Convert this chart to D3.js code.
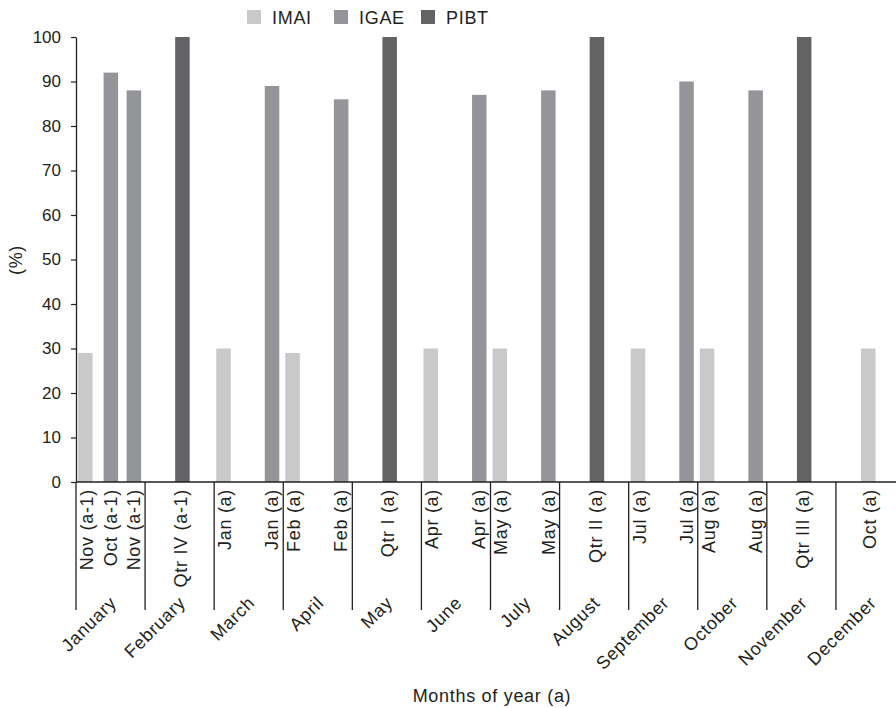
<!DOCTYPE html>
<html>
<head>
<meta charset="utf-8">
<script src="https://cdn.jsdelivr.net/npm/d3@7"></script>
<style>
  html, body { margin: 0; padding: 0; background: #fff; }
  svg { display: block; font-family: "Liberation Sans", Arial, Helvetica, sans-serif; }
  .lbl { font-size: 18px; letter-spacing: 0.7px; fill: #231f20; }
</style>
</head>
<body>
<svg id="chart" width="896" height="708"></svg>
<script>
// Months along the bottom; each month holds three slots.
const months = ["January", "February", "March", "April", "May", "June",
                "July", "August", "September", "October", "November", "December"];
const series = ["IMAI", "IGAE", "PIBT"];
const seriesColors = ["#c8c9cb", "#949598", "#636365"];

// One entry per occupied slot: month index, slot within month (0..2), series, reference label, value (%)
const slotMonth  = [0, 0, 0, 1, 2, 2, 3, 3, 4, 5, 5, 6, 6, 7, 8, 8, 9, 9, 10, 11];
const slotPos    = [0, 1, 2, 1, 0, 2, 0, 2, 1, 0, 2, 0, 2, 1, 0, 2, 0, 2, 1, 1];
const slotSeries = ["IMAI", "IGAE", "IGAE", "PIBT", "IMAI", "IGAE", "IMAI", "IGAE", "PIBT",
                    "IMAI", "IGAE", "IMAI", "IGAE", "PIBT", "IMAI", "IGAE", "IMAI", "IGAE",
                    "PIBT", "IMAI"];
const slotLabels = ["Nov (a-1)", "Oct (a-1)", "Nov (a-1)", "Qtr IV (a-1)", "Jan (a)", "Jan (a)",
                    "Feb (a)", "Feb (a)", "Qtr I (a)", "Apr (a)", "Apr (a)", "May (a)", "May (a)",
                    "Qtr II (a)", "Jul (a)", "Jul (a)", "Aug (a)", "Aug (a)", "Qtr III (a)", "Oct (a)"];
const slotValues = [29, 92, 88, 100, 30, 89, 29, 86, 100, 30, 87, 30, 88, 100, 30, 90, 30, 88, 100, 30];
const yTicks = [0, 10, 20, 30, 40, 50, 60, 70, 80, 90, 100];

const svg = d3.select("#chart");
const plotLeft = 76, plotRight = 905, plotTop = 37, plotBottom = 482;

const slots = d3.range(months.length * 3);
const x = d3.scaleBand().domain(slots).range([plotLeft, plotRight]).padding(0);
const xSeries = d3.scalePoint().domain(series).range([-2.2, 2.8]);
const y = d3.scaleLinear().domain([0, 100]).range([plotBottom, plotTop]);
const color = d3.scaleOrdinal().domain(series).range(seriesColors);
const barW = 14.5;

const data = slotValues.map((v, i) => ({
  slot: slotMonth[i] * 3 + slotPos[i],
  series: slotSeries[i],
  label: slotLabels[i],
  value: v
}));
const cx = d => x(d.slot) + x.bandwidth() / 2;

// Bars
svg.append("g").selectAll("rect").data(data).join("rect")
  .attr("x", d => cx(d) + xSeries(d.series) - barW / 2)
  .attr("width", barW)
  .attr("y", d => y(d.value))
  .attr("height", d => y(0) - y(d.value))
  .attr("fill", d => color(d.series));

// Y axis
const yAxis = svg.append("g")
  .attr("transform", `translate(${plotLeft},0)`)
  .call(d3.axisLeft(y).tickValues(yTicks).tickSize(5).tickPadding(10).tickSizeOuter(0));
yAxis.select(".domain").attr("stroke", "#231f20").attr("stroke-width", 1.3);
yAxis.selectAll(".tick line").attr("stroke", "#231f20").attr("stroke-width", 1.2);
yAxis.selectAll(".tick text")
  .attr("font-size", 17).attr("fill", "#231f20")
  .style("font-family", "'Liberation Sans', Arial, sans-serif");

// X baseline
svg.append("line")
  .attr("x1", plotLeft).attr("x2", 896).attr("y1", plotBottom).attr("y2", plotBottom)
  .attr("stroke", "#231f20").attr("stroke-width", 1.5);

// Month separators
svg.append("g").selectAll("line").data(months).join("line")
  .attr("x1", (m, i) => x(i * 3)).attr("x2", (m, i) => x(i * 3))
  .attr("y1", plotBottom).attr("y2", 610)
  .attr("stroke", "#231f20").attr("stroke-width", 1.3);

// Slot labels (vertical)
svg.append("g").selectAll("text").data(data).join("text")
  .attr("class", "lbl")
  .attr("transform", d => `translate(${cx(d) + xSeries(d.series) * 0.4},${plotBottom + 7}) rotate(-90)`)
  .attr("text-anchor", "end")
  .attr("dy", "0.35em")
  .text(d => d.label);

// Month labels (diagonal)
svg.append("g").selectAll("text").data(months).join("text")
  .attr("class", "lbl")
  .attr("transform", (m, i) => `translate(${x(i * 3 + 1) + x.bandwidth() / 2 + 7},${604}) rotate(-45)`)
  .attr("text-anchor", "end")
  .text(m => m);

// Axis titles
svg.append("text")
  .attr("class", "lbl")
  .attr("x", 492).attr("y", 702)
  .attr("text-anchor", "middle")
  .text("Months of year (a)");

svg.append("text")
  .attr("class", "lbl")
  .attr("transform", "translate(22,260) rotate(-90)")
  .attr("text-anchor", "middle")
  .text("(%)");

// Legend
const legendX = [247, 334, 421];
const legend = svg.append("g").selectAll("g").data(series).join("g")
  .attr("transform", (s, i) => `translate(${legendX[i]},10)`);
legend.append("rect").attr("width", 14).attr("height", 14).attr("fill", s => color(s));
legend.append("text").attr("class", "lbl").attr("x", 25).attr("y", 13.5)
  .text(s => s);
</script>
</body>
</html>
